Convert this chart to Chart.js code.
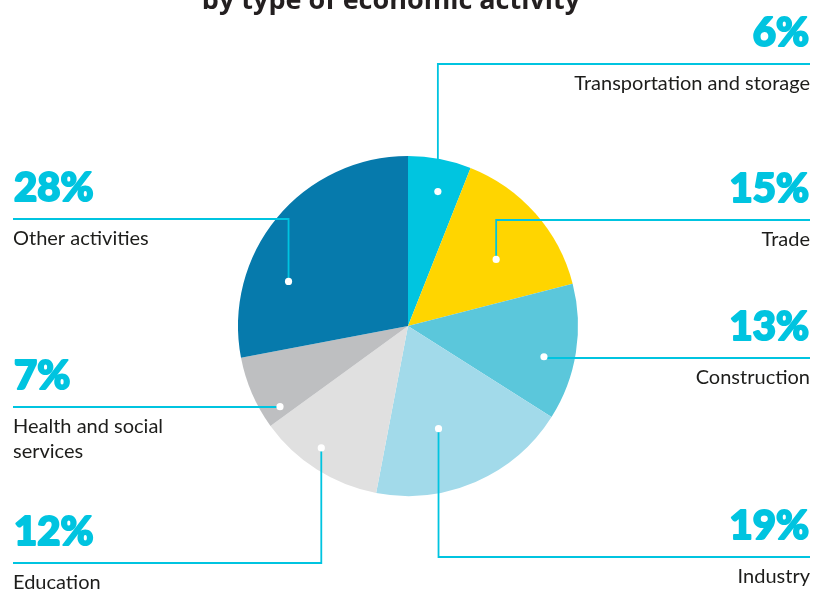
<!DOCTYPE html>
<html>
<head>
<meta charset="utf-8">
<script src="https://cdn.jsdelivr.net/npm/chart.js@4/dist/chart.umd.min.js"></script>
<style>
  html, body { margin: 0; padding: 0; background: #ffffff; overflow: hidden; }
  canvas { display: block; }
</style>
</head>
<body>
<canvas id="chart" width="816" height="590"></canvas>
<script>
// Employment by type of economic activity, share of total (%)
const categories = [
  'Transportation and storage',
  'Trade',
  'Construction',
  'Industry',
  'Education',
  ['Health and social', 'services'],
  'Other activities'
];
const shares = [6, 15, 13, 19, 12, 7, 28];
const sliceColors = ['#00C5E0', '#FFD500', '#5BC7DB', '#A2DAEA', '#E0E0E0', '#BEBFC1', '#067AAC'];
const titleText = 'by type of economic activity';

// Callout layout: which side the label sits on, the y of its rule line,
// and where the anchor dot sits inside its slice (fraction of the slice's sweep / of the radius).
const callouts = [
  { side: 'right', lineY: 64,  sweep: 0.58, depth: 0.81, under: true },
  { side: 'right', lineY: 220, sweep: 0.58, depth: 0.65 },
  { side: 'right', lineY: 358, sweep: 0.58, depth: 0.82 },
  { side: 'right', lineY: 557, sweep: 0.60, depth: 0.63 },
  { side: 'left',  lineY: 563, sweep: 0.57, depth: 0.88 },
  { side: 'left',  lineY: 407, sweep: 0.15, depth: 0.89 },
  { side: 'left',  lineY: 219, sweep: 0.31, depth: 0.75 }
];

const ACCENT = '#00C4E0';
const INK = '#1d1d1b';
const LEFT_X = 13;
const RIGHT_X = 810;

function anchorPoint(arc, c) {
  const p = arc.getProps(['x', 'y', 'startAngle', 'endAngle', 'outerRadius'], true);
  const a = p.startAngle + (p.endAngle - p.startAngle) * c.sweep;
  const r = p.outerRadius * c.depth;
  return { x: p.x + Math.cos(a) * r, y: p.y + Math.sin(a) * r };
}

function drawLeader(ctx, pt, c) {
  const edge = c.side === 'right' ? RIGHT_X : LEFT_X;
  ctx.save();
  ctx.strokeStyle = ACCENT;
  ctx.lineWidth = 1.8;
  ctx.lineJoin = 'miter';
  ctx.beginPath();
  ctx.moveTo(pt.x, pt.y);
  ctx.lineTo(pt.x, c.lineY);
  ctx.lineTo(edge, c.lineY);
  ctx.stroke();
  ctx.restore();
}

const calloutPlugin = {
  id: 'callouts',
  beforeDatasetsDraw(chart) {
    const ctx = chart.ctx;
    const arcs = chart.getDatasetMeta(0).data;
    callouts.forEach((c, i) => {
      if (c.under) drawLeader(ctx, anchorPoint(arcs[i], c), c);
    });
  },
  afterDatasetsDraw(chart) {
    const ctx = chart.ctx;
    const arcs = chart.getDatasetMeta(0).data;
    const labels = chart.data.labels;
    const values = chart.data.datasets[0].data;

    // title line, partly above the top edge
    ctx.save();
    ctx.fillStyle = '#231f20';
    ctx.font = 'bold 27px "Open Sans"';
    ctx.textAlign = 'center';
    ctx.textBaseline = 'alphabetic';
    ctx.fillText(titleText, 391, 9);
    ctx.restore();

    callouts.forEach((c, i) => {
      const pt = anchorPoint(arcs[i], c);
      if (!c.under) drawLeader(ctx, pt, c);

      // anchor dot
      ctx.save();
      ctx.fillStyle = '#ffffff';
      ctx.beginPath();
      ctx.arc(pt.x, pt.y, 3.6, 0, Math.PI * 2);
      ctx.fill();
      ctx.restore();

      const x = c.side === 'right' ? RIGHT_X : LEFT_X;
      ctx.save();
      ctx.textAlign = c.side === 'right' ? 'right' : 'left';
      ctx.textBaseline = 'alphabetic';

      // share, set heavy
      const pct = values[i] + '%';
      const nudge = c.side === 'right' ? -1 : 1;
      ctx.fillStyle = ACCENT;
      ctx.strokeStyle = ACCENT;
      ctx.lineWidth = 2;
      ctx.lineJoin = 'round';
      ctx.font = '900 40px Lato';
      ctx.fillText(pct, x + nudge, c.lineY - 18);
      ctx.strokeText(pct, x + nudge, c.lineY - 18);

      // category name
      ctx.fillStyle = INK;
      ctx.font = '20px Lato';
      const lines = Array.isArray(labels[i]) ? labels[i] : [labels[i]];
      lines.forEach((ln, k) => ctx.fillText(ln, x, c.lineY + 26 + k * 25));
      ctx.restore();
    });
  }
};

new Chart(document.getElementById('chart'), {
  type: 'pie',
  data: {
    labels: categories,
    datasets: [{
      data: shares,
      backgroundColor: sliceColors,
      borderWidth: 0,
      hoverOffset: 0
    }]
  },
  options: {
    responsive: false,
    animation: false,
    events: [],
    layout: { padding: { top: 156, bottom: 94, left: 200, right: 200 } },
    plugins: {
      legend: { display: false },
      tooltip: { enabled: false },
      title: { display: false }
    }
  },
  plugins: [calloutPlugin]
});
</script>
</body>
</html>
